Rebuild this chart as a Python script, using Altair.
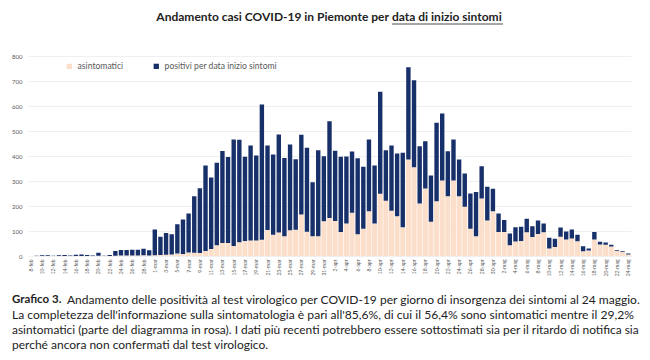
import altair as alt
import pandas as pd
import datetime as dt

# ---- data ----
MONTHS = {2: "feb", 3: "mar", 4: "apr", 5: "mag"}
start = dt.date(2020, 2, 8)
days = [start + dt.timedelta(days=i) for i in range(107)]
labels = [f"{d.day}-{MONTHS[d.month]}" for d in days]
tick_labels = labels[::2]
y_ticks = [0, 100, 200, 300, 400, 500, 600, 700, 800]

total = [0, 1, 3, 3, 1, 3, 4, 2, 5, 6, 4, 2, 13, 1, 4, 20, 24, 24, 25, 25, 29, 23,
         106, 77, 92, 87, 127, 146, 170, 239, 271, 362, 314, 373, 420, 396, 466, 465, 397, 442, 402, 606,
         442, 406, 486, 392, 446, 387, 485, 433, 295, 423, 399, 539, 421, 397, 398, 418, 391, 357, 466, 362,
         657, 423, 442, 410, 413, 755, 703, 439,
         459, 322, 533, 570, 419, 466, 386, 330, 250, 256, 359, 277, 269, 170, 144, 90, 115, 117, 149, 119,
         142, 130, 73, 69, 114, 98, 106, 85, 39, 30, 96, 57, 54, 45, 24, 20, 10]
asint = [0, 0, 0, 0, 0, 0, 0, 0, 0, 0, 0, 0, 1, 0, 0, 1, 2, 2, 2, 2, 3, 2,
         3, 4, 5, 6, 10, 8, 14, 13, 12, 20, 28, 43, 52, 52, 40, 55, 60, 62, 62, 65,
         104, 85, 94, 79, 103, 105, 166, 97, 79, 79, 139, 152, 140, 96, 130, 173, 87, 109, 179, 130,
         249, 221, 181, 159, 115, 386, 355, 210,
         270, 137, 219, 302, 239, 302, 239, 197, 109, 79, 230, 142, 179, 96, 96, 43, 58, 60, 95, 76,
         88, 95, 30, 36, 77, 66, 70, 59, 19, 22, 66, 46, 45, 38, 21, 17, 6]

series_names = ["asintomatici", "positivi per data inizio sintomi"]
PINK = "#FBDFCA"
BLUE = "#17306A"

title_a = "Andamento casi COVID-19 in Piemonte per"
title_b = "data di inizio sintomi"
cap_bold = "Grafico 3."
cap_lines = [
    "Andamento delle positività al test virologico per COVID-19 per giorno di insorgenza dei sintomi al 24 maggio.",
    "La completezza dell'informazione sulla sintomatologia è pari all'85,6%, di cui il 56,4% sono sintomatici mentre il 29,2%",
    "asintomatici (parte del diagramma in rosa). I dati più recenti potrebbero essere sottostimati sia per il ritardo di notifica sia",
    "perché ancora non confermati dal test virologico.",
]

df_pink = pd.DataFrame({"day": labels, "total": total, "asint": asint, "serie": series_names[0]})
df_blue = pd.DataFrame({"day": labels, "total": total, "asint": asint, "serie": series_names[1]})

FONT = "Lato"
GRAY = "#595959"

xenc = alt.X("day:N", sort=labels, title=None,
             scale=alt.Scale(paddingInner=0, paddingOuter=0),
             axis=alt.Axis(values=tick_labels, labelAngle=-90, labelFontSize=5, labelColor=GRAY,
                           labelFont=FONT, ticks=False, domain=False, labelPadding=3, grid=False))
y_axis = alt.Axis(values=y_ticks, labelFontSize=6, labelColor=GRAY, labelOverlap=False,
                  labelFont=FONT, ticks=False, domain=False, labelPadding=6,
                  gridColor="#E4E4E4", gridWidth=0.6)
y_scale = alt.Scale(domain=[0, 800])
color_enc = alt.Color("serie:N",
                      scale=alt.Scale(domain=series_names, range=[PINK, BLUE]),
                      legend=alt.Legend(title=None, orient="none", legendX=37, legendY=6,
                                        direction="horizontal", symbolType="square", symbolSize=28,
                                        labelFontSize=8.6, labelFont=FONT, labelColor=GRAY,
                                        columnPadding=28, symbolStrokeWidth=0))

pink = alt.Chart(df_pink).mark_bar(width=alt.RelativeBandSize(0.9)).encode(
    x=xenc,
    y=alt.Y("asint:Q", scale=y_scale, stack=None, title=None, axis=y_axis),
    color=color_enc,
)
blue = alt.Chart(df_blue).mark_bar(width=alt.RelativeBandSize(0.78)).encode(
    x=xenc,
    y=alt.Y("asint:Q", scale=y_scale, stack=None, title=None, axis=y_axis),
    y2="total:Q",
    color=color_enc,
)

def txt(s, x, y, size=11, weight="normal", align="left", color="#222222"):
    return alt.Chart(pd.DataFrame({"t": [s]})).mark_text(
        font=FONT, fontSize=size, fontWeight=weight, align=align, baseline="middle", color=color
    ).encode(x=alt.value(x), y=alt.value(y), text="t:N")

layers = [pink, blue,
          txt(title_a, 361, -39, 12, "bold", "right"),
          txt(title_b, 364, -39, 12, "bold", "left"),
          alt.Chart(pd.DataFrame({"a": [0]})).mark_rule(color="#222222", strokeWidth=0.8).encode(
              x=alt.value(364), x2=alt.value(475), y=alt.value(-32)),
          txt(cap_bold, -16, 244, 11.5, "bold"),
          txt(cap_lines[0], 39, 244, 12.03),
          txt(cap_lines[1], -16, 259, 12.1),
          txt(cap_lines[2], -16, 274, 11.95),
          txt(cap_lines[3], -16, 289, 12),
          ]

chart = alt.layer(*layers).properties(
    width=603, height=200,
    autosize=alt.AutoSizeParams(type="none"),
    padding={"left": 20, "top": 48, "right": 11, "bottom": 96},
    background="white",
).configure_view(stroke=None)

chart.save("out.html", embed_options={"renderer": "svg", "actions": False})
